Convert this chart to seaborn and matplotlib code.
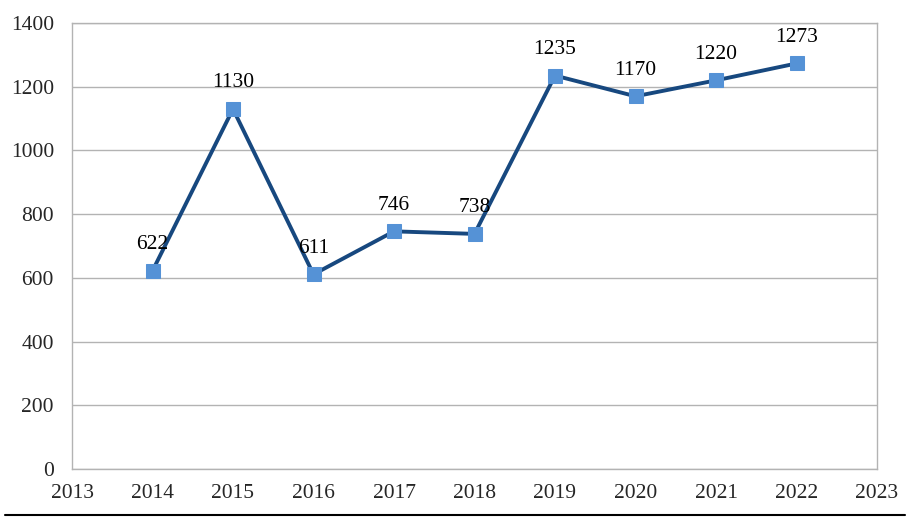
import matplotlib
matplotlib.use("Agg")
import matplotlib.pyplot as plt
import seaborn as sns
import pandas as pd
from matplotlib.lines import Line2D

years = [2014, 2015, 2016, 2017, 2018, 2019, 2020, 2021, 2022]
values = [622, 1130, 611, 746, 738, 1235, 1170, 1220, 1273]
x_ticks = list(range(2013, 2024))
y_ticks = list(range(0, 1401, 200))

sns.set_theme(style="white")
plt.rcParams['font.family'] = ['Liberation Serif', 'DejaVu Serif']

df = pd.DataFrame({"year": years, "value": values})

fig = plt.figure(figsize=(9.2, 5.18), dpi=100)
ax = fig.add_axes([72/920, 49/518, (877-72)/920, (469-23)/518])

sns.lineplot(data=df, x="year", y="value", ax=ax, color="#17487f", linewidth=2.8,
             marker="s", markersize=10, markerfacecolor="#5592d6",
             markeredgecolor="#5592d6", zorder=3)

for x, y in zip(years, values):
    ax.annotate(str(y), (x, y), xytext=(0, 12), textcoords="offset points",
                ha="center", va="bottom", fontsize=15.5, color="black")

ax.set_xlim(2013, 2023)
ax.set_ylim(0, 1400)
ax.set_xticks(x_ticks)
ax.set_yticks(y_ticks)
ax.set_xticklabels([str(t) for t in x_ticks], fontsize=15.5)
ax.set_yticklabels([str(t) for t in y_ticks], fontsize=15.5)
ax.tick_params(axis="both", length=0)
ax.tick_params(axis="x", pad=11)
ax.tick_params(axis="y", pad=13)
ax.grid(axis="y", color="#b3b3b3", linewidth=1)
ax.set_axisbelow(True)
for s in ax.spines.values():
    s.set_color("#b3b3b3")
    s.set_linewidth(1)
ax.set_xlabel("")
ax.set_ylabel("")

fig.add_artist(Line2D([5/920, 905/920], [3/518, 3/518], color="black", linewidth=1.5,
                      transform=fig.transFigure))

fig.savefig("out.png", dpi=100)
